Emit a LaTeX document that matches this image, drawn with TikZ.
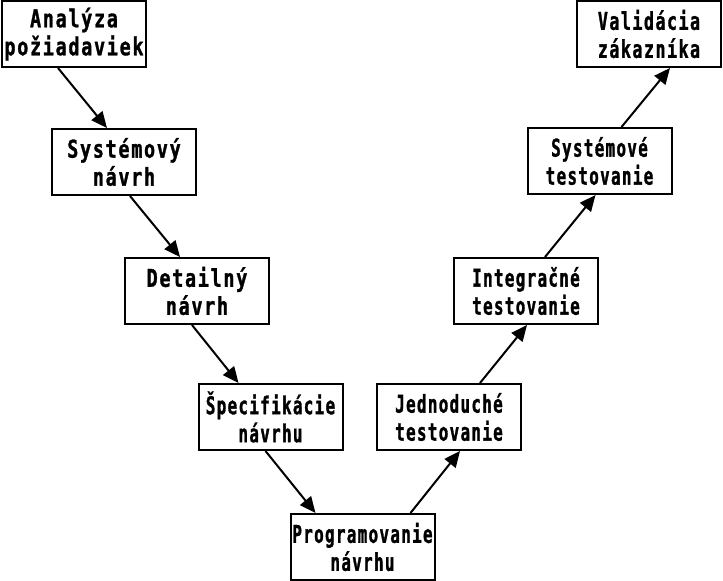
\documentclass[tikz,border=0pt]{standalone}
\usepackage{fontspec}
\usetikzlibrary{arrows.meta}
\newfontfamily\wdfont[FakeStretch=0.75,LetterSpace=7.1,FakeBold=1.2]{DejaVu Sans Mono Bold}
\newfontfamily\mdfont[FakeStretch=0.68,LetterSpace=6.1,FakeBold=1.2]{DejaVu Sans Mono Bold}
\newfontfamily\nrfont[FakeStretch=0.65,LetterSpace=5.3,FakeBold=1.2]{DejaVu Sans Mono Bold}
\tikzset{
  blok/.style={draw, line width=2pt, minimum width=144pt, minimum height=66pt,
    inner sep=0pt, align=center},
  wd/.style={blok, font=\wdfont\fontsize{24.5}{28}\selectfont},
  md/.style={blok, font=\mdfont\fontsize{24.5}{28}\selectfont},
  nr/.style={blok, font=\nrfont\fontsize{24.5}{28}\selectfont},
  sip/.style={line width=2pt, -{Triangle[length=16pt,width=14pt]}}
}
\begin{document}
\begin{tikzpicture}[x=1pt,y=-1pt]
\useasboundingbox (0,0) rectangle (723,581);
% lava vetva
\node[wd] (an) at (74,34) {Analýza\\požiadaviek};
\node[wd] (sn) at (124,162) {Systémový\\návrh};
\node[wd] (dn) at (197,291) {Detailný\\návrh};
\node[nr] (sp) at (270.5,417) {Špecifikácie\\návrhu};
\node[nr] (pr) at (362.5,547) {Programovanie\\návrhu};
% prava vetva
\node[nr] (jt) at (449,417) {Jednoduché\\testovanie};
\node[nr] (it) at (526,291) {Integračné\\testovanie};
\node[nr] (st) at (599.5,161) {Systémové\\testovanie};
\node[md] (vz) at (649,34) {Validácia\\zákazníka};

\foreach \a/\da/\b/\db in {an.south/-16/sn.north/-17, sn.south/6/dn.north/-17,
  dn.south/-5/sp.north/-32, sp.south/-5/pr.north/-47,
  pr.north/48/jt.south/11, jt.north/31/it.south/1,
  it.north/19/st.south/-4, st.north/22/vz.south/21}{
\draw[sip] ([xshift=\da]\a) -- ([xshift=\db]\b);
}
\end{tikzpicture}
\end{document}
